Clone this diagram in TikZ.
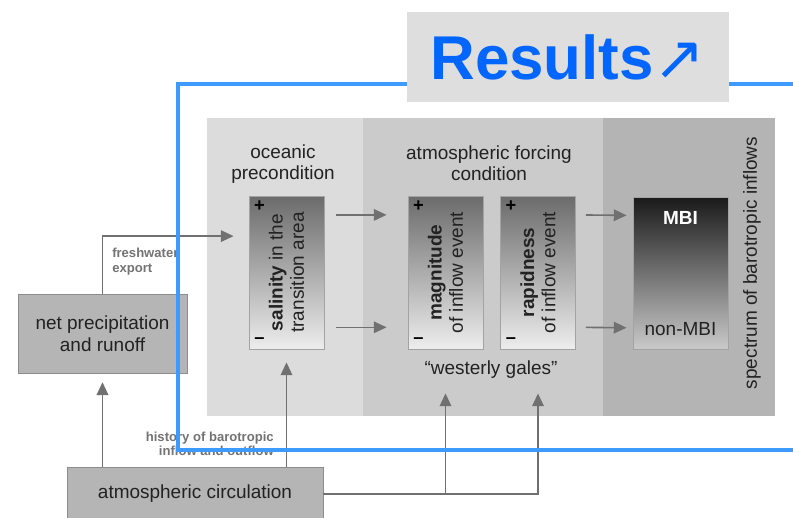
\documentclass[tikz,border=0pt]{standalone}
\usepackage{fontspec}
\setmainfont{Liberation Sans}
\newfontfamily\symfont{DejaVu Sans}
\usetikzlibrary{positioning, arrows.meta, calc}
\definecolor{oceancol}{HTML}{DCDCDC}
\definecolor{forcecol}{HTML}{CBCBCB}
\definecolor{spectcol}{HTML}{B4B4B4}
\definecolor{drivercol}{HTML}{B5B5B5}
\definecolor{edgecol}{HTML}{8C8C8C}
\definecolor{arrowcol}{HTML}{707070}
\definecolor{framecol}{HTML}{3D9BFF}
\definecolor{resultcol}{HTML}{0066FF}
\definecolor{tagcol}{HTML}{DEDEDE}
\definecolor{textcol}{HTML}{222222}
\tikzset{
  head/.style={font=\fontsize{13.5}{15}\selectfont, text=textcol,
               align=center, inner sep=0pt},
  vartext/.style={head, rotate=90},
  varbox/.style={rectangle, draw=edgecol!80, line width=0.6pt,
                 minimum width=18.75mm, minimum height=38.25mm,
                 inner sep=0pt, top color=black!58, bottom color=black!7},
  mbibox/.style={varbox, minimum width=23.75mm, minimum height=38mm,
                 top color=black!90, bottom color=black!21},
  driver/.style={rectangle, draw=edgecol, line width=0.6pt,
                 fill=drivercol, inner sep=0pt,
                 font=\fontsize{13.5}{16}\selectfont, text=textcol,
                 align=center},
  sign/.style={font=\fontsize{13}{13}\selectfont\bfseries,
               text=black, inner sep=0pt},
  flowlbl/.style={font=\fontsize{9.3}{10.3}\selectfont\bfseries,
                  text=black!55, inner sep=0pt},
  arr/.style={-{Triangle[length=3.2mm, width=2.9mm]},
              line width=0.4mm, arrowcol},
  frame/.style={draw=framecol, line width=1mm},
  tagbox/.style={rectangle, fill=tagcol, inner sep=0pt,
                 minimum width=80.5mm, minimum height=22.5mm,
                 font=\fontsize{44}{48}\selectfont\bfseries,
                 text=resultcol},
}
\begin{document}
\begin{tikzpicture}[x=0.25mm, y=-0.25mm]
    \useasboundingbox[fill=white] (0,0) rectangle (793,518);

    % panels
    \fill[oceancol] (207,118) rectangle (363,416);
    \fill[forcecol] (363,118) rectangle (603,416);
    \fill[spectcol] (603,118) rectangle (775,416);
    \node[head] (oce) at (283,164) {oceanic\\precondition};
    \node[head] (frc) at (489,163) {atmospheric forcing\\condition};
    \node[head, rotate=90] (spc) at (752,263) {spectrum of barotropic inflows};

    % variables
    \node[varbox] (sal) at (286.5,272.5) {};
    \node[vartext] (sal-t) at (sal) {\textbf{salinity} in the\\transition area};
    \node[varbox] (mag) at (445.5,272.5) {};
    \node[vartext] (mag-t) at (mag) {\textbf{magnitude}\\of inflow event};
    \node[varbox] (rap) at (538,272.5) {};
    \node[vartext] (rap-t) at (rap) {\textbf{rapidness}\\of inflow event};
    \node[sign] (sal-p) at ($(sal.north west)+(11,11)$) {+};
    \node[sign] (sal-m) at ($(sal.south west)+(11,-9)$) {–};
    \node[sign] (mag-p) at ($(mag.north west)+(11,11)$) {+};
    \node[sign] (mag-m) at ($(mag.south west)+(11,-9)$) {–};
    \node[sign] (rap-p) at ($(rap.north west)+(11,11)$) {+};
    \node[sign] (rap-m) at ($(rap.south west)+(11,-9)$) {–};
    \node[head] (wgl) at (491,370) {“westerly gales”};

    \node[mbibox] (mbi) at (680.5,273) {};
    \node[head, font=\fontsize{13.5}{15}\selectfont\bfseries, text=white] (mbi-t) at ($(mbi.north)+(0,21)$) {MBI};
    \node[head] (nmbi-t) at ($(mbi.south)+(0,-20)$) {non-MBI};

    % drivers
    \node[driver, minimum width=42.25mm, minimum height=19.75mm] (netp) at (102.5,333.5) {net precipitation\\and runoff};
    \node[driver, minimum width=64mm, minimum height=13.5mm] (atm) at (195,494) {atmospheric circulation};

    \draw[arr, shorten <=3mm, shorten >=5.25mm] ([yshift=14.4mm]sal.east) -- ([yshift=14.4mm]mag.west);
    \draw[arr, shorten <=3mm, shorten >=5.25mm] ([yshift=-13.7mm]sal.east) -- ([yshift=-13.7mm]mag.west);
    \draw[arr, shorten <=2.5mm, shorten >=1.5mm] ([yshift=14.4mm]rap.east) -- ([yshift=14.4mm]mbi.west);
    \draw[arr, shorten <=2.5mm, shorten >=1.5mm] ([yshift=-13.7mm]rap.east) -- ([yshift=-13.7mm]mbi.west);
    \draw[arr, shorten >=3.75mm] (netp.north) |- ([yshift=9.1mm]sal.west);
    \draw[arr, shorten >=2.2mm] (atm.north -| netp.south) -- (netp.south);
    \draw[arr, shorten >=3.25mm] (atm.north -| sal.south) -- (sal.south);
    \draw[arr, shorten >=11mm] (atm.east) -| (rap.south);
    \draw[arr, shorten >=11mm] (atm.east -| mag.south) -- (mag.south);

    \node[flowlbl, anchor=north west, align=left] (fwl) at (112,248) {freshwater\\export};
    \node[flowlbl, anchor=east, align=right] (hil) at (274,444) {history of barotropic\\inflow and outflow};

    % results frame
    \draw[frame] (800,84) -- (178,84) -- (178,450) -- (800,450);
    \node[tagbox] (tag) at (568,57) {Results{\mdseries\symfont ↗}};
\end{tikzpicture}
\end{document}
